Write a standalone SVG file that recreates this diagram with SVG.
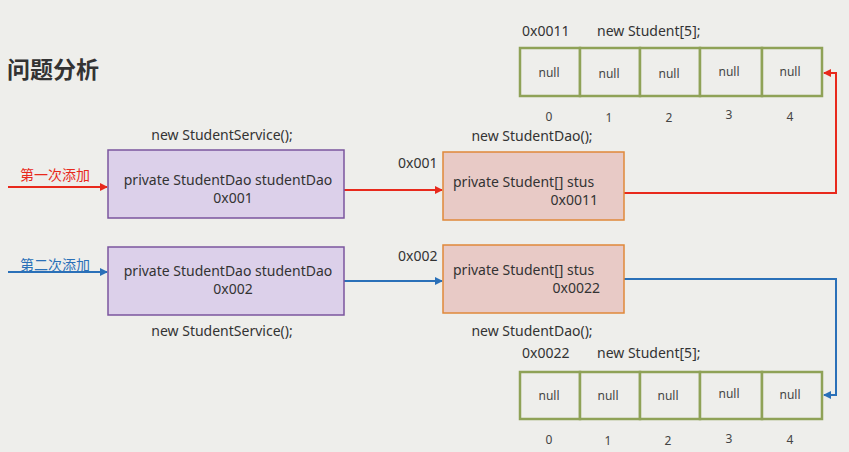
<svg xmlns="http://www.w3.org/2000/svg" width="849" height="452" viewBox="0 0 849 452">
<defs>
<style>
.t{font-family:"Noto Sans","Open Sans","Liberation Sans",sans-serif;font-size:14px;fill:#333}
.s{font-family:"Noto Sans","Liberation Sans",sans-serif;font-size:12px;fill:#444}
.cjk{font-family:"Noto Sans CJK SC",sans-serif;font-size:14px}
.svc{fill:#dcd0ea;stroke:#7b559e;stroke-width:1.5}
.dao{fill:#e8cac6;stroke:#e0883a;stroke-width:1.5}
.cell{fill:#eeeeeb;stroke:#8fa257;stroke-width:2.5}
.red{stroke:#e8291c;stroke-width:2;fill:none}
.blue{stroke:#2a70b8;stroke-width:2;fill:none}
</style>
<marker id="ar" markerWidth="8" markerHeight="8" refX="7" refY="4" orient="auto" markerUnits="userSpaceOnUse"><path d="M0,0 L8,4 L0,8 Z" fill="#e8291c"/></marker>
<marker id="ab" markerWidth="8" markerHeight="8" refX="7" refY="4" orient="auto" markerUnits="userSpaceOnUse"><path d="M0,0 L8,4 L0,8 Z" fill="#2a70b8"/></marker>
</defs>
<rect width="849" height="452" fill="#eeeeeb"/>
<text x="7" y="78" style="font-family:'Noto Sans CJK SC',sans-serif;font-size:23px;font-weight:bold;fill:#333">问题分析</text>

<g id="connectors">
<line class="red" x1="8" y1="187" x2="107" y2="187" marker-end="url(#ar)"/>
<line class="red" x1="344" y1="190" x2="442" y2="190" marker-end="url(#ar)"/>
<polyline class="red" points="624,193 836,193 836,73 824,73" marker-end="url(#ar)"/>
<line class="blue" x1="8" y1="272" x2="107" y2="272" marker-end="url(#ab)"/>
<line class="blue" x1="344" y1="281" x2="442" y2="281" marker-end="url(#ab)"/>
<polyline class="blue" points="624,279 836,279 836,395 824,395" marker-end="url(#ab)"/>
<text x="20" y="180" class="cjk" fill="#e8291c">第一次添加</text>
<text x="20" y="270" class="cjk" fill="#2a70b8">第二次添加</text>
<text x="398" y="168" class="t">0x001</text>
<text x="398" y="261" class="t">0x002</text>
</g>

<g id="service1">
<text x="222" y="140" class="t" text-anchor="middle">new StudentService();</text>
<rect class="svc" x="108" y="150" width="236" height="68"/>
<text x="228" y="185" class="t" text-anchor="middle">private StudentDao studentDao</text>
<text x="233" y="203" class="t" text-anchor="middle">0x001</text>
</g>
<g id="service2">
<rect class="svc" x="108" y="247" width="236" height="68"/>
<text x="228" y="276" class="t" text-anchor="middle">private StudentDao studentDao</text>
<text x="233" y="294" class="t" text-anchor="middle">0x002</text>
<text x="222" y="336" class="t" text-anchor="middle">new StudentService();</text>
</g>
<g id="dao1">
<text x="532" y="141" class="t" text-anchor="middle">new StudentDao();</text>
<rect class="dao" x="443" y="152" width="181" height="68"/>
<text x="453" y="187" class="t">private Student[] stus</text>
<text x="598" y="205" class="t" text-anchor="end">0x0011</text>
</g>
<g id="dao2">
<rect class="dao" x="443" y="245" width="181" height="68"/>
<text x="453" y="275" class="t">private Student[] stus</text>
<text x="600" y="293" class="t" text-anchor="end">0x0022</text>
<text x="532" y="336" class="t" text-anchor="middle">new StudentDao();</text>
</g>

<g id="array1">
<text x="522" y="36" class="t">0x0011</text>
<text x="597" y="36" class="t">new Student[5];</text>
<rect class="cell" x="520" y="48" width="60" height="48"/>
<rect class="cell" x="580" y="48" width="60" height="48"/>
<rect class="cell" x="640" y="48" width="60" height="48"/>
<rect class="cell" x="700" y="48" width="62" height="48"/>
<rect class="cell" x="762" y="48" width="60" height="48"/>
<text x="549" y="77" class="s" text-anchor="middle">null</text>
<text x="609" y="78" class="s" text-anchor="middle">null</text>
<text x="669" y="78" class="s" text-anchor="middle">null</text>
<text x="729" y="76" class="s" text-anchor="middle">null</text>
<text x="790" y="76" class="s" text-anchor="middle">null</text>
<text x="549" y="121" class="s" text-anchor="middle">0</text>
<text x="609" y="122" class="s" text-anchor="middle">1</text>
<text x="669" y="122" class="s" text-anchor="middle">2</text>
<text x="729" y="119" class="s" text-anchor="middle">3</text>
<text x="790" y="121" class="s" text-anchor="middle">4</text>
</g>
<g id="array2">
<text x="522" y="358" class="t">0x0022</text>
<text x="597" y="358" class="t">new Student[5];</text>
<rect class="cell" x="520" y="372" width="60" height="47"/>
<rect class="cell" x="580" y="372" width="60" height="47"/>
<rect class="cell" x="640" y="372" width="60" height="47"/>
<rect class="cell" x="700" y="372" width="62" height="47"/>
<rect class="cell" x="762" y="372" width="60" height="47"/>
<text x="549" y="400" class="s" text-anchor="middle">null</text>
<text x="608" y="400" class="s" text-anchor="middle">null</text>
<text x="668" y="400" class="s" text-anchor="middle">null</text>
<text x="729" y="398" class="s" text-anchor="middle">null</text>
<text x="790" y="399" class="s" text-anchor="middle">null</text>
<text x="549" y="444" class="s" text-anchor="middle">0</text>
<text x="608" y="445" class="s" text-anchor="middle">1</text>
<text x="668" y="445" class="s" text-anchor="middle">2</text>
<text x="729" y="443" class="s" text-anchor="middle">3</text>
<text x="790" y="444" class="s" text-anchor="middle">4</text>
</g>
</svg>
